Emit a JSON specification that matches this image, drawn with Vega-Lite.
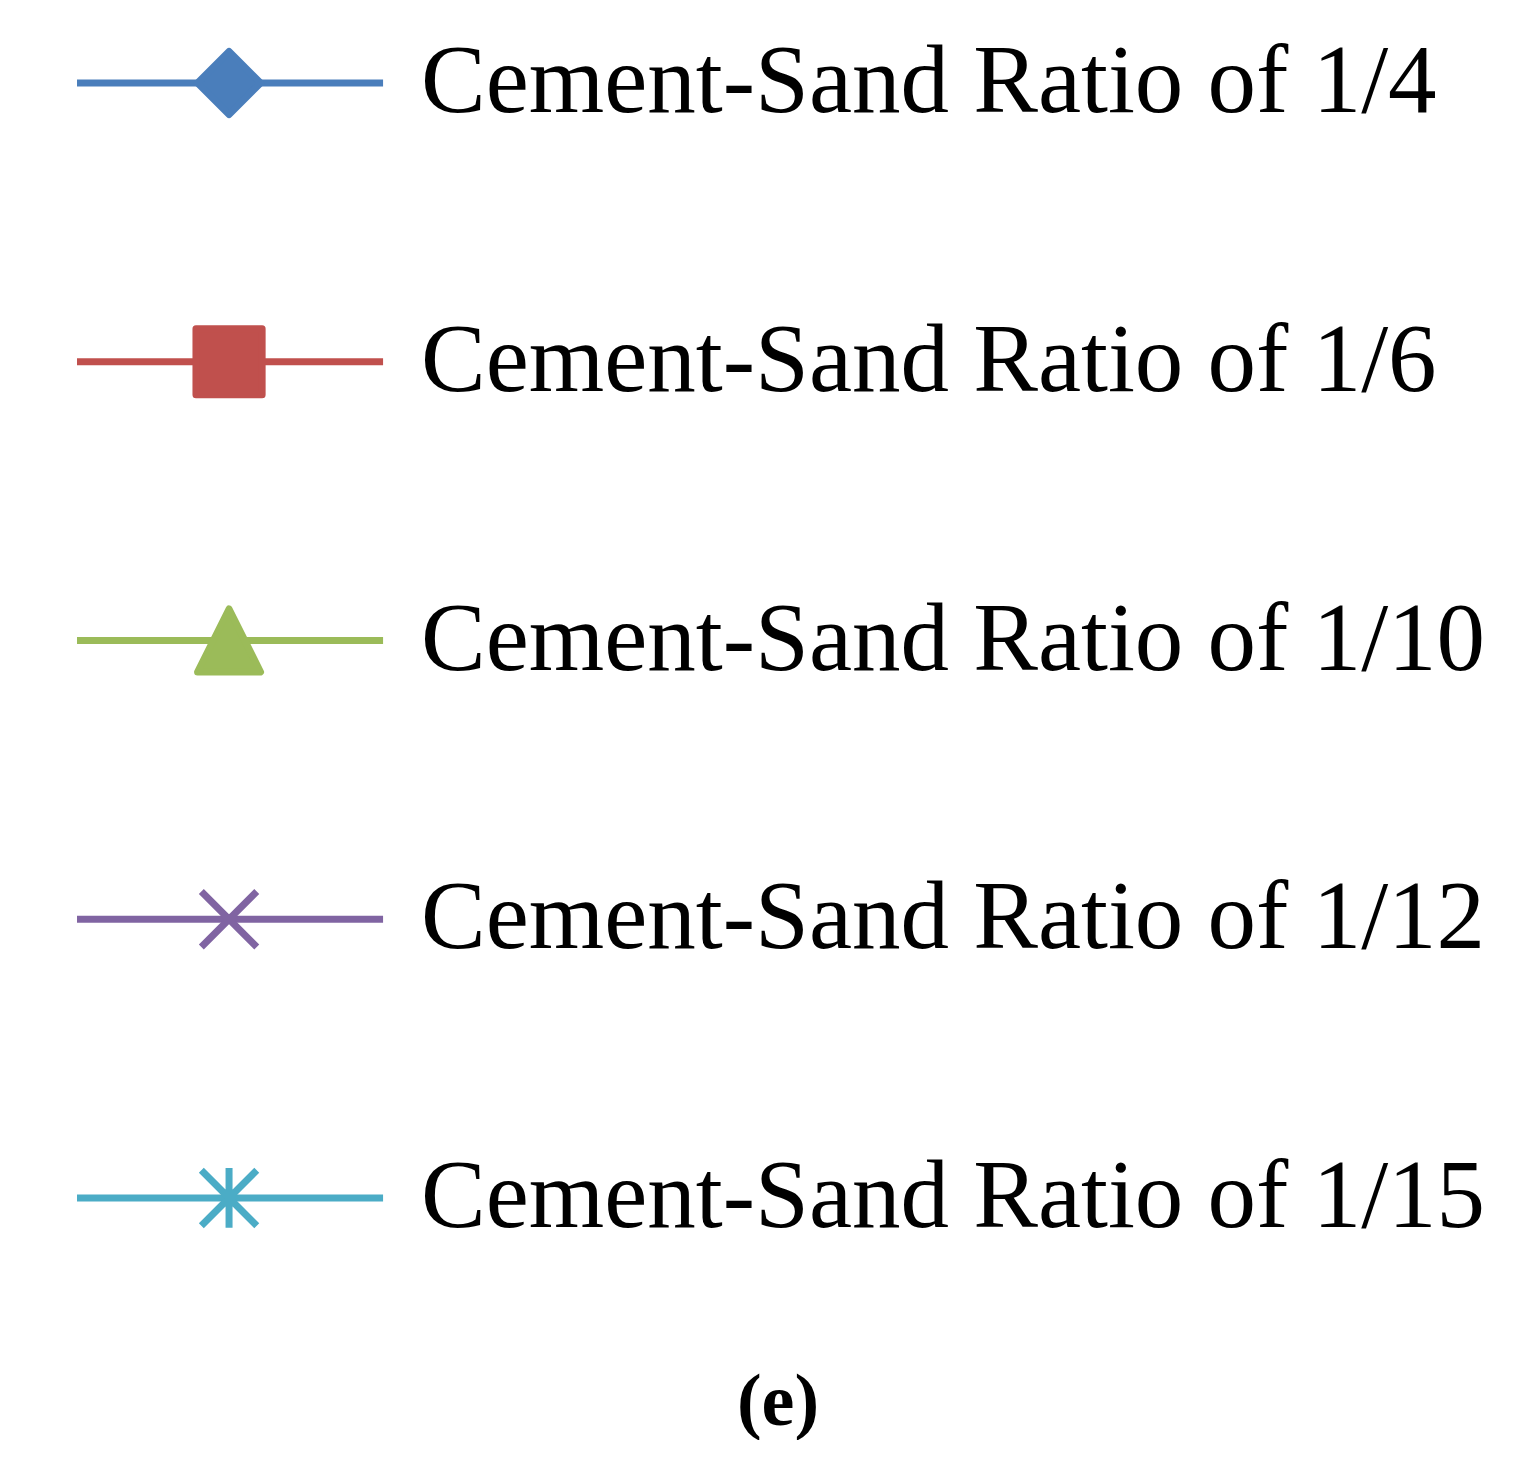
{
  "$schema": "https://vega.github.io/schema/vega-lite/v6.json",
  "width": 1528,
  "height": 1281,
  "padding": 0,
  "autosize": {"type": "pad"},
  "background": "white",
  "config": {"view": {"stroke": null}},
  "title": {
    "text": "(e)",
    "orient": "bottom",
    "anchor": "middle",
    "font": "Liberation Serif",
    "fontSize": 74,
    "fontWeight": "bold",
    "color": "black",
    "baseline": "top",
    "offset": 86,
    "dx": 14
  },
  "data": {
    "values": [
      {"series": "1/4", "label": "Cement-Sand Ratio of 1/4"},
      {"series": "1/6", "label": "Cement-Sand Ratio of 1/6"},
      {"series": "1/10", "label": "Cement-Sand Ratio of 1/10"},
      {"series": "1/12", "label": "Cement-Sand Ratio of 1/12"},
      {"series": "1/15", "label": "Cement-Sand Ratio of 1/15"}
    ]
  },
  "encoding": {
    "y": {
      "field": "series",
      "type": "ordinal",
      "scale": {"type": "point", "padding": 0.298, "domain": ["1/4", "1/6", "1/10", "1/12", "1/15"]},
      "axis": null
    }
  },
  "layer": [
    {
      "mark": {"type": "rule", "strokeWidth": 7},
      "encoding": {
        "x": {"datum": 5.04, "type": "quantitative", "scale": {"domain": [0, 100], "nice": false, "zero": false}, "axis": null},
        "x2": {"datum": 25.07},
        "color": {
          "field": "series",
          "type": "nominal",
          "scale": {"domain": ["1/4", "1/6", "1/10", "1/12", "1/15"], "range": ["#4A7EBB", "#C0504D", "#9BBB59", "#8064A2", "#4BACC6"]},
          "legend": null
        }
      }
    },
    {
      "mark": {"type": "point", "filled": true, "opacity": 1, "size": 3969, "strokeWidth": 7, "strokeJoin": "round"},
      "encoding": {
        "x": {"datum": 14.99, "type": "quantitative"},
        "color": {"field": "series", "type": "nominal", "legend": null},
        "stroke": {
          "field": "series",
          "type": "nominal",
          "scale": {"domain": ["1/4", "1/6", "1/10", "1/12", "1/15"], "range": ["#4A7EBB", "#C0504D", "#9BBB59", "#8064A2", "#4BACC6"]},
          "legend": null
        },
        "shape": {
          "field": "series",
          "type": "nominal",
          "scale": {
            "domain": ["1/4", "1/6", "1/10", "1/12", "1/15"],
            "range": [
              "M0,-1L1,0L0,1L-1,0Z",
              "M-1.05,-1.05L1.05,-1.05L1.05,1.05L-1.05,1.05Z",
              "M0,-1L1,1L-1,1Z",
              "M-0.88,-0.88L0.88,0.88M-0.88,0.88L0.88,-0.88",
              "M-0.88,-0.88L0.88,0.88M-0.88,0.88L0.88,-0.88M0,-0.95L0,0.95"
            ]
          },
          "legend": null
        }
      }
    },
    {
      "mark": {"type": "text", "align": "left", "baseline": "middle", "font": "Liberation Serif", "fontSize": 97, "color": "black"},
      "encoding": {
        "x": {"datum": 27.55, "type": "quantitative"},
        "text": {"field": "label", "type": "nominal"}
      }
    }
  ]
}
